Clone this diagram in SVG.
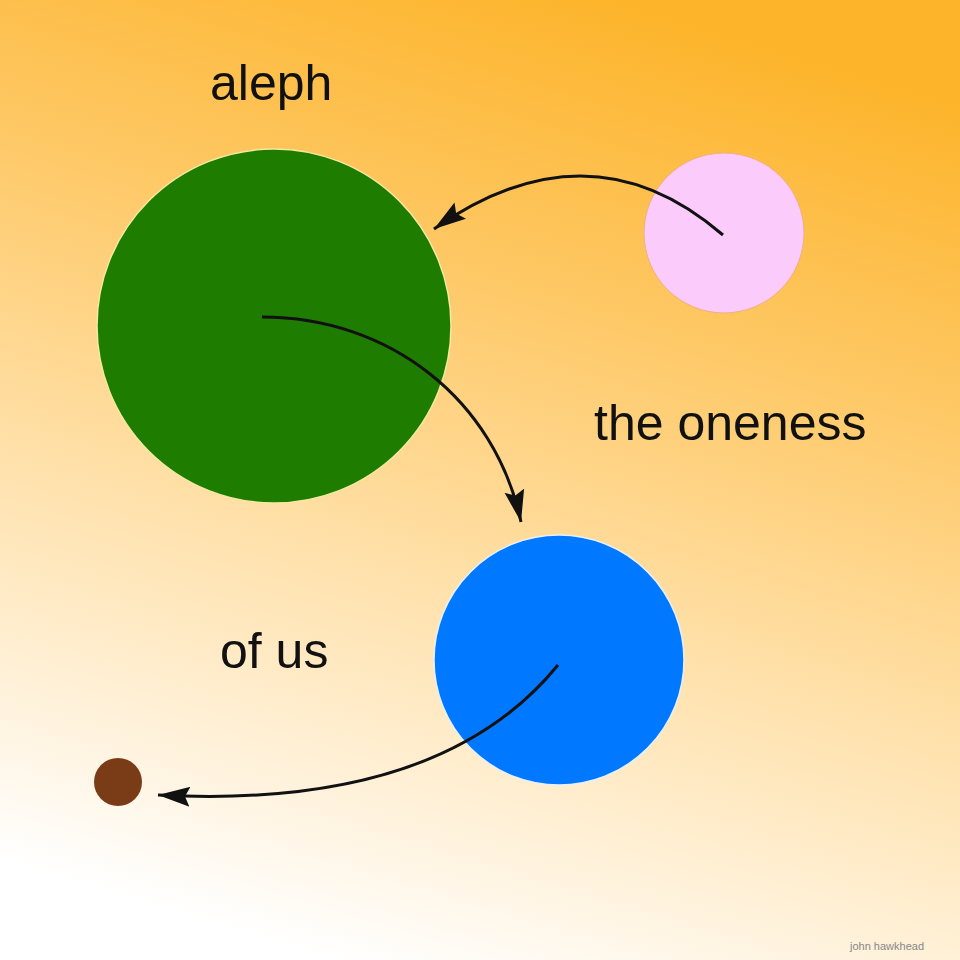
<svg xmlns="http://www.w3.org/2000/svg" width="960" height="960" viewBox="0 0 960 960">
<defs>
<linearGradient id="bg" x1="0.35" y1="1" x2="0.65" y2="0">
<stop offset="0" stop-color="#FFFFFF"/>
<stop offset="0.12" stop-color="#FFF5E4"/>
<stop offset="0.4" stop-color="#FFE0A8"/>
<stop offset="0.7" stop-color="#FEC865"/>
<stop offset="1" stop-color="#FDB42A"/>
</linearGradient>
<marker id="ah" markerUnits="userSpaceOnUse" markerWidth="36" markerHeight="24" refX="32" refY="11" orient="auto">
<path d="M0,1 L32,11 L0,21 L5,11 Z" fill="#111"/>
</marker>
<style>
.lbl{font-family:"Liberation Sans","DejaVu Sans",sans-serif;font-size:50px;fill:#111}
.conn{fill:none;stroke:#111;stroke-width:3;marker-end:url(#ah)}
.edge{stroke:#F3E9A0;stroke-width:1.5}
</style>
</defs>
<rect width="960" height="960" fill="url(#bg)"/>
<g id="aleph">
<circle cx="274" cy="326" r="177" fill="#1E7D00" class="edge"/>
<text class="lbl" x="210" y="100">aleph</text>
</g>
<g id="pink">
<circle cx="724" cy="233" r="80" fill="#FACBFB" stroke="#F0B080" stroke-width="1"/>
</g>
<g id="oneness">
<circle cx="559" cy="660" r="125" fill="#0078FF" stroke="#E8F0FF" stroke-width="1.5"/>
<text class="lbl" x="594" y="440">the oneness</text>
</g>
<g id="ofus">
<circle cx="118" cy="782" r="24" fill="#7A3B17"/>
<text class="lbl" x="220" y="668">of us</text>
</g>
<g id="connectors">
<path class="conn" d="M723,235 Q590,120 434,229"/>
<path class="conn" d="M262,317 C390,317 495,400 521,522"/>
<path class="conn" d="M558,665 Q440,810 158,795"/>
</g>
<text x="850" y="950" font-family="Liberation Sans, sans-serif" font-size="11" fill="#888">john hawkhead</text>
</svg>
